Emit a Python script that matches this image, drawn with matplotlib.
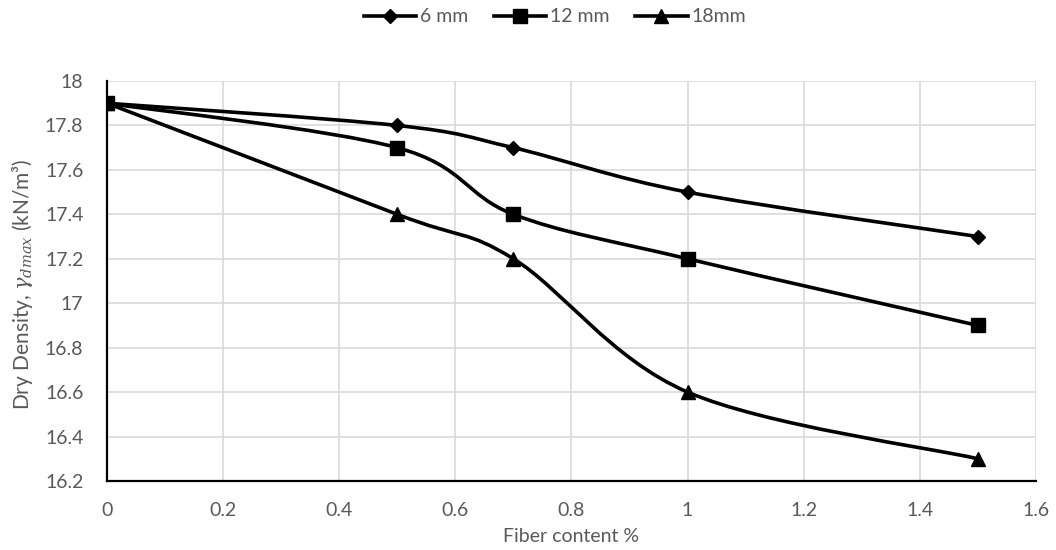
import numpy as np
import matplotlib
matplotlib.use("Agg")
import matplotlib.pyplot as plt
from matplotlib.path import Path
from matplotlib.patches import PathPatch

plt.rcParams['font.family'] = ['Lato', 'DejaVu Sans']
plt.rcParams['mathtext.fontset'] = 'dejavuserif'

fiber = [0, 0.5, 0.7, 1.0, 1.5]
series_names = ['6 mm', '12 mm', '18mm']
d6 = [17.9, 17.8, 17.7, 17.5, 17.3]
d12 = [17.9, 17.7, 17.4, 17.2, 16.9]
d18 = [17.9, 17.4, 17.2, 16.6, 16.3]
markers = ['D', 's', '^']
msizes = [7, 10, 10.5]

xticks = [0, 0.2, 0.4, 0.6, 0.8, 1.0, 1.2, 1.4, 1.6]
xticklabels = ['0', '0.2', '0.4', '0.6', '0.8', '1', '1.2', '1.4', '1.6']
yticks = [16.2, 16.4, 16.6, 16.8, 17.0, 17.2, 17.4, 17.6, 17.8, 18.0]
yticklabels = ['16.2', '16.4', '16.6', '16.8', '17', '17.2', '17.4', '17.6', '17.8', '18']

TXT = '#595959'
FS = 14
LW = 2.6


def smooth_path(xs, ys):
    pts = np.column_stack([xs, ys]).astype(float)
    n = len(pts)
    verts = [pts[0]]
    codes = [Path.MOVETO]
    for i in range(n - 1):
        p0 = pts[i - 1] if i > 0 else pts[i]
        p1 = pts[i]
        p2 = pts[i + 1]
        p3 = pts[i + 2] if i + 2 < n else pts[i + 1]
        c1 = p1 + (p2 - p0) / 6.0
        c2 = p2 - (p3 - p1) / 6.0
        verts += [c1, c2, p2]
        codes += [Path.CURVE4] * 3
    return Path(verts, codes)


fig = plt.figure(figsize=(10.56, 5.5), dpi=100)
ax = fig.add_axes([0.1013, 0.1255, 0.8797, 0.7272])

handles = []
for ys, name, m, ms in zip([d6, d12, d18], series_names, markers, msizes):
    patch = PathPatch(smooth_path(fiber, ys), facecolor='none', edgecolor='black',
                      lw=LW, zorder=3, capstyle='round', joinstyle='round')
    ax.add_patch(patch)
    ax.plot(fiber, ys, linestyle='none', marker=m, markersize=ms, color='black', zorder=4)
    h, = ax.plot([], [], color='black', lw=LW, marker=m, markersize=ms, label=name)
    handles.append(h)

ax.set_xlim(0, 1.6)
ax.set_ylim(16.2, 18.0)
ax.set_xticks(xticks)
ax.set_xticklabels(xticklabels)
ax.set_yticks(yticks)
ax.set_yticklabels(yticklabels)
ax.grid(True, color='#d9d9d9', lw=1.2)
ax.set_axisbelow(True)
for s in ['top', 'right']:
    ax.spines[s].set_visible(False)
for s in ['left', 'bottom']:
    ax.spines[s].set_color('black')
    ax.spines[s].set_linewidth(1.6)
ax.tick_params(length=0, labelsize=FS, labelcolor=TXT)
ax.tick_params(axis='y', pad=17)
ax.tick_params(axis='x', pad=15)
ax.set_xlabel('Fiber content %', fontsize=FS, color=TXT)
ax.set_ylabel(r'Dry Density, $\gamma_{dmax}$ (kN/m³)', fontsize=15, color=TXT)
ax.xaxis.set_label_coords(0.5, (481 - 537) / 400)
ax.xaxis.label.set_va('center')
ax.yaxis.set_label_coords((23 - 107) / 929, (481 - 284) / 400)
ax.yaxis.label.set_va('center')

fig.legend(handles=handles, loc='center', bbox_to_anchor=(555 / 1056, 1 - 17 / 550), ncol=3,
           frameon=False, fontsize=FS, labelcolor=TXT, handlelength=2.7,
           handletextpad=0.2, columnspacing=1.3, borderpad=0)

fig.savefig('out.png', dpi=100)
